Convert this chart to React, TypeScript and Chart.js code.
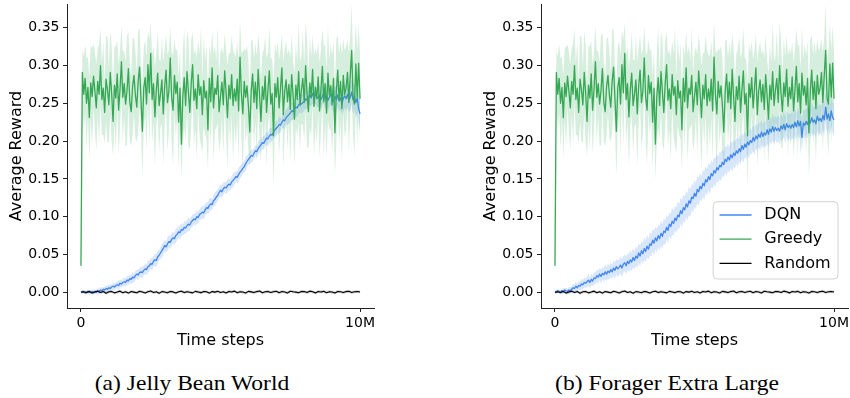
import React, { useEffect, useRef } from 'react';
import { Chart, registerables } from 'chart.js';

Chart.register(...registerables);

// ---------------- DATA ----------------
// x axis in millions of time steps
const sampleStep = 0.05; // spacing of Greedy / DQN samples (M steps)
const randomStep = 0.1; // spacing of Random samples (M steps)

const greedyMean = [
  .035, .291, .262, .283, .250, .271, .231, .277, .259, .286,
  .266, .244, .279, .262, .300, .255, .270, .238, .282, .268,
  .248, .291, .263, .226, .274, .257, .289, .241, .269, .305,
  .258, .276, .249, .267, .296, .252, .239, .272, .287, .261,
  .245, .279, .298, .256, .213, .270, .284, .249, .301, .264,
  .316, .255, .276, .232, .268, .290, .247, .262, .281, .236,
  .273, .294, .251, .266, .310, .258, .241, .287, .263, .278,
  .225, .270, .196, .259, .284, .247, .292, .265, .238, .276,
  .301, .254, .269, .243, .288, .261, .272, .235, .280, .257,
  .266, .215, .283, .252, .297, .244, .270, .262, .287, .239,
  .259, .278, .248, .293, .265, .231, .274, .256, .288, .247,
  .269, .253, .282, .240, .311, .262, .236, .279, .258, .273,
  .247, .212, .266, .289, .251, .278, .243, .295, .260, .226,
  .272, .255, .286, .238, .268, .293, .249, .263, .207, .276,
  .258, .284, .244, .270, .297, .235, .266, .281, .252, .275,
  .242, .288, .261, .229, .274, .255, .292, .247, .268, .283,
  .251, .300, .263, .239, .277, .259, .295, .246, .271, .256,
  .285, .240, .268, .299, .252, .276, .237, .290, .261, .273,
  .248, .283, .211, .266, .294, .255, .279, .243, .287, .262,
  .270, .291, .251, .288, .320, .257, .249, .302, .258, .303,
  .256,
];

const greedySpread = [
  .010, .030, .050, .045, .060, .040, .055, .048, .065, .042,
  .052, .058, .044, .066, .050, .047, .062, .041, .057, .070,
  .049, .055, .063, .046, .052, .068, .044, .059, .051, .047,
  .061, .043, .056, .072, .048, .053, .045, .064, .050, .058,
  .046, .067, .052, .041, .060, .055, .049, .063, .045, .071,
  .040, .058, .050, .066, .047, .054, .062, .043, .057, .069,
  .051, .046, .064, .055, .042, .060, .073, .048, .056, .044,
  .062, .050, .047, .058, .066, .045, .053, .070, .049, .057,
  .043, .061, .052, .067, .046, .055, .078, .050, .059, .048,
  .064, .053, .045, .060, .049, .071, .056, .044, .063, .052,
  .058, .047, .066, .050, .055, .069, .043, .061, .052, .074,
  .046, .059, .051, .065, .048, .057, .081, .044, .062, .053,
  .060, .049, .067, .045, .058, .052, .070, .047, .063, .055,
  .044, .066, .053, .072, .049, .057, .061, .046, .068, .054,
  .059, .048, .064, .052, .045, .070, .056, .050, .063, .047,
  .068, .053, .046, .061, .055, .049, .066, .058, .044, .062,
  .050, .057, .071, .048, .060, .053, .045, .067, .052, .059,
  .046, .063, .055, .049, .074, .051, .058, .062, .047, .056,
  .065, .050, .057, .069, .046, .060, .053, .072, .049, .058,
  .055, .044, .066, .051, .061, .048, .070, .054, .063, .050,
  .058,
];

const randomMean = [
  .0000, .0008, -.0004, .0012, -.0010, .0005, .0014, -.0003, .0009, -.0012,
  .0006, .0011, -.0008, .0003, .0015, -.0005, .0007, -.0011, .0010, .0002,
  -.0007, .0013, .0004, -.0009, .0008, .0016, -.0002, .0006, -.0013, .0009,
  .0003, -.0006, .0011, .0005, -.0010, .0007, .0014, -.0004, .0008, .0001,
  -.0008, .0012, .0004, -.0005, .0010, .0006, -.0011, .0009, .0002, .0013,
  -.0003, .0007, -.0009, .0011, .0004, .0015, -.0006, .0008, .0003, -.0010,
  .0012, .0005, -.0004, .0009, .0016, -.0007, .0006, .0011, -.0002, .0008,
  .0013, -.0005, .0010, .0004, -.0009, .0014, .0007, .0002, -.0006, .0011,
  .0009, -.0003, .0015, .0006, -.0008, .0010, .0004, .0012, -.0005, .0008,
  .0003, -.0010, .0011, .0007, -.0004, .0009, .0013, -.0002, .0006, .0010,
  .0004,
];
const randomSpread = 0.0018;

const dqnJellyMean = [
  .000, .001, .000, -.001, .000, .001, .000, .000, .001, .000,
  .001, .000, .002, .001, .003, .002, .004, .003, .005, .004,
  .006, .005, .007, .008, .007, .009, .010, .009, .012, .011,
  .013, .014, .013, .016, .015, .018, .017, .020, .019, .022,
  .024, .023, .026, .027, .026, .029, .031, .030, .034, .035,
  .038, .037, .041, .043, .042, .047, .049, .052, .055, .058,
  .062, .060, .064, .067, .066, .070, .072, .071, .075, .077,
  .080, .079, .083, .082, .086, .085, .088, .090, .089, .093,
  .095, .097, .096, .100, .099, .103, .104, .106, .105, .109,
  .112, .111, .115, .117, .116, .121, .123, .126, .128, .132,
  .135, .133, .137, .139, .138, .141, .143, .142, .146, .148,
  .150, .153, .152, .156, .159, .161, .164, .166, .170, .173,
  .176, .178, .181, .180, .184, .187, .186, .190, .193, .195,
  .198, .197, .201, .204, .203, .207, .209, .208, .212, .215,
  .217, .219, .222, .221, .225, .228, .227, .231, .233, .235,
  .237, .240, .239, .243, .245, .244, .248, .250, .249, .251,
  .252, .256, .254, .258, .261, .257, .263, .259, .262, .258,
  .257, .261, .255, .259, .264, .256, .260, .254, .258, .262,
  .256, .252, .259, .255, .261, .253, .257, .250, .256, .260,
  .256, .262, .254, .258, .265, .255, .259, .251, .257, .243,
  .236,
];

const dqnJellySpread = [
  .001, .002, .002, .002, .003, .002, .003, .003, .002, .003,
  .003, .003, .004, .003, .004, .004, .003, .004, .004, .005,
  .004, .005, .004, .005, .005, .004, .005, .006, .005, .005,
  .005, .006, .005, .006, .006, .005, .006, .007, .006, .006,
  .006, .007, .006, .007, .008, .006, .007, .007, .008, .007,
  .007, .008, .007, .008, .009, .008, .007, .008, .009, .008,
  .008, .007, .009, .008, .008, .009, .007, .008, .009, .008,
  .008, .009, .008, .007, .009, .008, .008, .009, .008, .007,
  .008, .007, .008, .009, .008, .007, .008, .008, .009, .008,
  .007, .008, .009, .008, .007, .008, .009, .008, .008, .007,
  .008, .009, .008, .007, .008, .009, .008, .007, .008, .009,
  .008, .007, .008, .009, .008, .008, .007, .008, .009, .008,
  .007, .008, .009, .008, .007, .008, .008, .009, .008, .007,
  .008, .009, .008, .008, .009, .010, .009, .008, .009, .010,
  .009, .010, .011, .010, .009, .010, .011, .010, .011, .012,
  .011, .012, .011, .012, .013, .012, .011, .012, .013, .012,
  .012, .013, .012, .014, .013, .012, .013, .014, .013, .012,
  .013, .014, .013, .012, .014, .013, .014, .015, .013, .014,
  .014, .015, .014, .016, .015, .014, .016, .015, .017, .016,
  .016, .017, .016, .018, .017, .019, .018, .020, .019, .021,
  .022,
];

const dqnForagerMean = [
  .001, .000, .002, .001, .000, .002, .001, .003, .002, .001,
  .003, .002, .004, .006, .005, .008, .006, .009, .008, .011,
  .010, .013, .012, .014, .016, .013, .017, .015, .019, .018,
  .022, .020, .024, .021, .025, .023, .027, .024, .028, .026,
  .030, .027, .032, .029, .034, .031, .033, .036, .032, .037,
  .039, .035, .041, .038, .043, .040, .046, .042, .048, .045,
  .052, .048, .055, .051, .058, .054, .061, .057, .064, .062,
  .069, .065, .072, .068, .075, .071, .078, .074, .081, .079,
  .086, .082, .090, .087, .094, .091, .098, .095, .102, .100,
  .108, .104, .112, .109, .117, .113, .121, .118, .126, .124,
  .131, .127, .136, .133, .140, .137, .144, .141, .149, .146,
  .153, .149, .157, .154, .161, .158, .165, .162, .168, .166,
  .172, .169, .176, .173, .179, .175, .182, .178, .184, .181,
  .187, .184, .190, .186, .194, .189, .196, .192, .199, .195,
  .201, .198, .205, .200, .207, .203, .209, .205, .212, .206,
  .211, .208, .215, .209, .216, .212, .219, .213, .218, .214,
  .217, .213, .220, .216, .222, .215, .223, .218, .221, .217,
  .222, .218, .225, .219, .227, .220, .226, .205, .224, .221,
  .226, .222, .229, .224, .231, .225, .228, .223, .233, .227,
  .230, .226, .234, .228, .245, .229, .236, .227, .240, .231,
  .228,
];

const dqnForagerSpread = [
  .002, .002, .003, .002, .003, .003, .004, .003, .004, .004,
  .004, .005, .004, .005, .005, .006, .005, .006, .006, .007,
  .006, .007, .006, .007, .008, .007, .008, .007, .008, .008,
  .008, .009, .008, .009, .008, .009, .010, .009, .010, .009,
  .010, .009, .010, .011, .010, .011, .010, .011, .012, .011,
  .011, .012, .011, .012, .013, .012, .013, .012, .013, .013,
  .013, .014, .013, .014, .015, .014, .015, .014, .015, .015,
  .015, .016, .015, .016, .015, .016, .017, .016, .017, .016,
  .016, .017, .016, .017, .018, .017, .016, .017, .018, .017,
  .017, .018, .017, .018, .017, .018, .019, .018, .017, .018,
  .018, .017, .018, .019, .018, .017, .018, .019, .018, .017,
  .018, .019, .018, .017, .018, .019, .018, .017, .018, .019,
  .018, .017, .018, .019, .018, .017, .018, .019, .018, .017,
  .017, .018, .017, .016, .017, .018, .017, .016, .017, .018,
  .017, .016, .017, .018, .017, .016, .017, .018, .017, .016,
  .016, .017, .018, .017, .016, .017, .018, .017, .016, .017,
  .017, .018, .017, .016, .017, .018, .017, .018, .017, .018,
  .018, .017, .018, .019, .018, .017, .018, .019, .018, .019,
  .018, .019, .018, .019, .020, .019, .018, .019, .020, .019,
  .019, .020, .019, .020, .021, .020, .019, .020, .021, .020,
  .021,
];

const xTickValues = [0, 10];
const xTickLabels = ['0', '10M'];
const yTickValues = [0, 0.05, 0.1, 0.15, 0.2, 0.25, 0.3, 0.35];
const legendLabels = ['DQN', 'Greedy', 'Random'];
const captions = ['(a) Jelly Bean World', '(b) Forager Extra Large'];
const xAxisTitle = 'Time steps';
const yAxisTitle = 'Average Reward';

// ---------------- STYLE ----------------
const FONT = "'DejaVu Sans'";
const COLORS = {
  dqn: '#4285F4',
  dqnBand: 'rgba(66,133,244,0.2)',
  greedy: '#34A853',
  greedyBand: 'rgba(52,168,83,0.2)',
  random: '#000000',
  randomBand: 'rgba(0,0,0,0.2)',
};
const legendColors = [COLORS.dqn, COLORS.greedy, COLORS.random];
const AXIS = '#222222';

const toPts = (vals: number[], step: number, off?: number[] | number, sign = 0) =>
  vals.map((v, i) => {
    const o = off === undefined ? 0 : Array.isArray(off) ? off[i] : off;
    return { x: i * step, y: v + sign * o };
  });

const bandSets = (mean: number[], spread: number[] | number, step: number, band: string) => [
  {
    data: toPts(mean, step, spread, 1),
    borderWidth: 0,
    pointRadius: 0,
    backgroundColor: band,
    fill: '+1',
  },
  {
    data: toPts(mean, step, spread, -1),
    borderWidth: 0,
    pointRadius: 0,
    fill: false,
  },
];

const lineSet = (mean: number[], step: number, color: string, width: number) => ({
  data: toPts(mean, step),
  borderColor: color,
  borderWidth: width,
  pointRadius: 0,
  fill: false,
  borderJoinStyle: 'round' as const,
});

const legendPlugin = {
  id: 'panelLegend',
  afterDraw(chart: any, _args: any, opts: any) {
    if (!opts || !opts.show) return;
    const ctx = chart.ctx;
    const ca = chart.chartArea;
    const fs = 16;
    ctx.save();
    ctx.font = `${fs}px ${FONT}`;
    const pad = 6.4, handle = 32, gap = 12.8, rowH = 24.2;
    const maxW = Math.max(...legendLabels.map((l) => ctx.measureText(l).width));
    const w = pad * 2 + handle + gap + maxW + 1;
    const h = 77.3;
    const x2 = ca.right - 10;
    const y2 = ca.bottom - 29;
    const x1 = x2 - w;
    const y1 = y2 - h;
    const r = 4;
    ctx.beginPath();
    ctx.moveTo(x1 + r, y1);
    ctx.lineTo(x2 - r, y1);
    ctx.quadraticCurveTo(x2, y1, x2, y1 + r);
    ctx.lineTo(x2, y2 - r);
    ctx.quadraticCurveTo(x2, y2, x2 - r, y2);
    ctx.lineTo(x1 + r, y2);
    ctx.quadraticCurveTo(x1, y2, x1, y2 - r);
    ctx.lineTo(x1, y1 + r);
    ctx.quadraticCurveTo(x1, y1, x1 + r, y1);
    ctx.closePath();
    ctx.fillStyle = 'rgba(255,255,255,0.8)';
    ctx.fill();
    ctx.strokeStyle = '#d3d3d3';
    ctx.lineWidth = 1;
    ctx.stroke();
    legendLabels.forEach((lab, i) => {
      const cy = y1 + 13.3 + i * rowH;
      ctx.beginPath();
      ctx.moveTo(x1 + pad, cy);
      ctx.lineTo(x1 + pad + handle, cy);
      ctx.strokeStyle = legendColors[i];
      ctx.lineWidth = 1.3;
      ctx.stroke();
      ctx.fillStyle = '#000';
      ctx.textBaseline = 'middle';
      ctx.textAlign = 'left';
      ctx.fillText(lab, x1 + pad + handle + gap, cy);
    });
    ctx.restore();
  },
};

function makeConfig(dqnMean: number[], dqnSpread: number[], showLegend: boolean): any {
  const datasets: any[] = [
    ...bandSets(dqnMean, dqnSpread, sampleStep, COLORS.dqnBand),
    lineSet(dqnMean, sampleStep, COLORS.dqn, 1.3),
    ...bandSets(greedyMean, greedySpread, sampleStep, COLORS.greedyBand),
    lineSet(greedyMean, sampleStep, COLORS.greedy, 1.3),
    ...bandSets(randomMean, randomSpread, randomStep, COLORS.randomBand),
    lineSet(randomMean, randomStep, COLORS.random, 1.1),
  ];
  // first dataset drawn first (bottom), last on top
  datasets.forEach((d, i) => {
    d.order = datasets.length - i;
  });
  return {
    type: 'line',
    data: { datasets },
    plugins: [legendPlugin],
    options: {
      animation: false,
      responsive: false,
      maintainAspectRatio: false,
      events: [],
      layout: { padding: { left: 0, top: 4, right: 2, bottom: 0 } },
      plugins: {
        legend: { display: false },
        tooltip: { enabled: false },
        panelLegend: { show: showLegend },
      },
      scales: {
        x: {
          type: 'linear',
          min: -0.5,
          max: 10.5,
          afterBuildTicks: (s: any) => {
            s.ticks = xTickValues.map((v) => ({ value: v }));
          },
          afterFit: (s: any) => {
            s.height = 47;
            s.paddingLeft = 0;
            s.paddingRight = 0;
          },
          ticks: {
            callback: (_v: any, i: number) => xTickLabels[i],
            font: { family: FONT, size: 14 },
            color: '#000',
            padding: 3,
            maxRotation: 0,
            autoSkip: false,
          },
          grid: {
            display: true,
            drawOnChartArea: false,
            drawTicks: true,
            tickLength: 4,
            tickWidth: 1,
            tickColor: AXIS,
          },
          border: { display: true, color: AXIS, width: 1 },
          title: {
            display: true,
            text: xAxisTitle,
            font: { family: FONT, size: 16 },
            color: '#000',
            padding: { top: 0, bottom: 5 },
          },
        },
        y: {
          type: 'linear',
          min: -0.0208,
          max: 0.3814,
          afterBuildTicks: (s: any) => {
            s.ticks = yTickValues.map((v) => ({ value: v }));
          },
          afterFit: (s: any) => {
            s.width = 67;
            s.paddingTop = 0;
            s.paddingBottom = 0;
          },
          ticks: {
            callback: (v: any) => Number(v).toFixed(2),
            font: { family: FONT, size: 14 },
            color: '#000',
            padding: 3.5,
            autoSkip: false,
          },
          grid: {
            display: true,
            drawOnChartArea: false,
            drawTicks: true,
            tickLength: 4,
            tickWidth: 1,
            tickColor: AXIS,
          },
          border: { display: true, color: AXIS, width: 1 },
          title: {
            display: true,
            text: yAxisTitle,
            font: { family: FONT, size: 16 },
            color: '#000',
            padding: { top: 7, bottom: 0 },
          },
        },
      },
    },
  };
}

function Panel({ dqnMean, dqnSpread, showLegend, left }: { dqnMean: number[]; dqnSpread: number[]; showLegend: boolean; left: number }) {
  const ref = useRef<HTMLCanvasElement | null>(null);
  useEffect(() => {
    if (!ref.current) return;
    const chart = new Chart(ref.current, makeConfig(dqnMean, dqnSpread, showLegend));
    return () => chart.destroy();
  }, [dqnMean, dqnSpread, showLegend]);
  return (
    <div style={{ position: 'absolute', left, top: 0, width: 376, height: 355 }}>
      <canvas ref={ref} width={376} height={355} style={{ display: 'block', width: 376, height: 355 }} />
    </div>
  );
}

const captionStyle = (center: number): React.CSSProperties => ({
  position: 'absolute',
  left: center - 200,
  width: 400,
  top: 372,
  textAlign: 'center',
  fontFamily: "'Liberation Serif', 'Times New Roman', serif",
  fontSize: 22,
  lineHeight: '22px',
  whiteSpace: 'nowrap',
  color: '#000',
  transform: 'scaleX(1.07)',
});

export default function App() {
  return (
    <div style={{ position: 'fixed', left: 0, top: 0, width: 850, height: 398, overflow: 'hidden', background: '#fff' }}>
      <Panel dqnMean={dqnJellyMean} dqnSpread={dqnJellySpread} showLegend={false} left={0} />
      <Panel dqnMean={dqnForagerMean} dqnSpread={dqnForagerSpread} showLegend={true} left={474} />
      <div style={captionStyle(191.5)}>{captions[0]}</div>
      <div style={captionStyle(667)}>{captions[1]}</div>
    </div>
  );
}
